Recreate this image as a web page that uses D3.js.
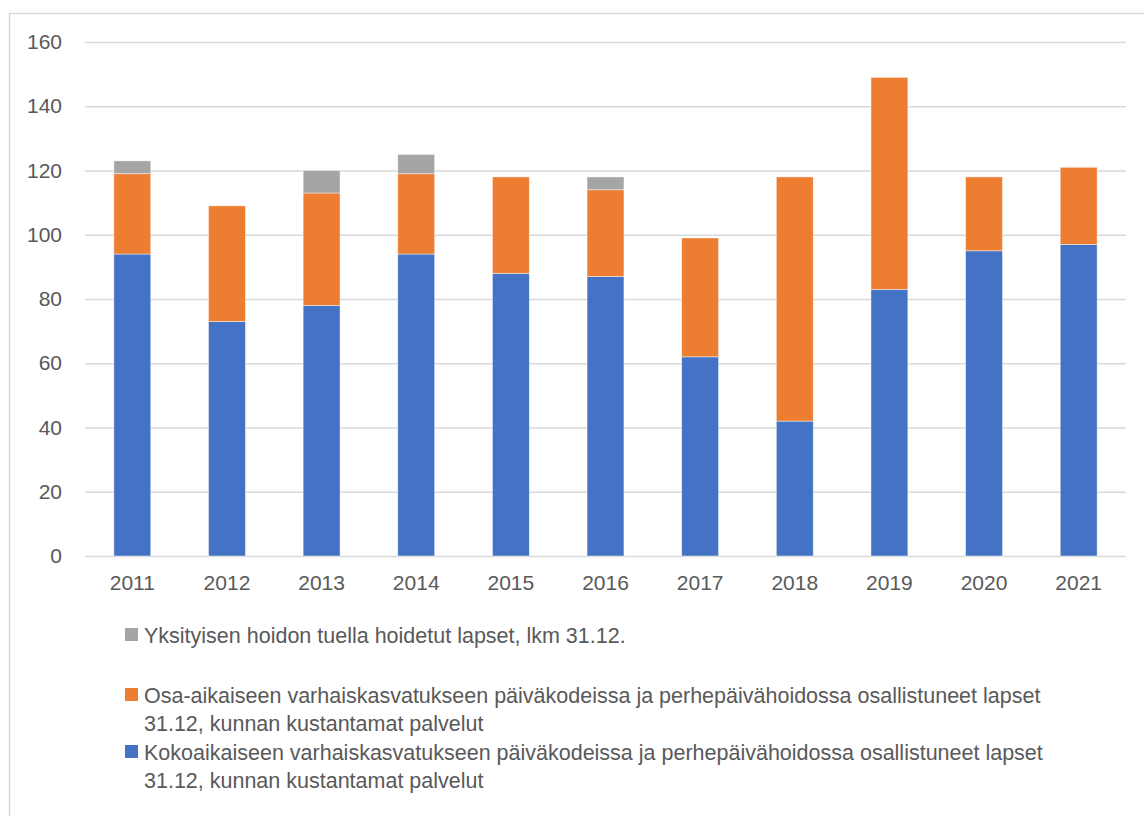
<!DOCTYPE html>
<html>
<head>
<meta charset="utf-8">
<script src="https://cdn.jsdelivr.net/npm/d3@7"></script>
<style>
  html, body { margin: 0; padding: 0; background: #fff; }
  svg { display: block; font-family: "Liberation Sans", Arial, sans-serif; }
</style>
</head>
<body>
<div id="chart"></div>
<script>
// data
const years = ['2011', '2012', '2013', '2014', '2015', '2016', '2017', '2018', '2019', '2020', '2021'];
const kokoaikainen = [94, 73, 78, 94, 88, 87, 62, 42, 83, 95, 97];
const osaaikainen = [25, 36, 35, 25, 30, 27, 37, 76, 66, 23, 24];
const yksityinen = [4, 0, 7, 6, 0, 4, 0, 0, 0, 0, 0];
const yTicks = [0, 20, 40, 60, 80, 100, 120, 140, 160];

const seriesKeys = ['koko', 'osa', 'yks'];
const colors = { koko: '#4472C4', osa: '#ED7D31', yks: '#A5A5A5' };
const legendItems = [
    { key: 'yks', lines: ['Yksityisen hoidon tuella hoidetut lapset, lkm 31.12.'] },
    { key: 'osa', lines: ['Osa-aikaiseen varhaiskasvatukseen päiväkodeissa ja perhepäivähoidossa osallistuneet lapset', '31.12, kunnan kustantamat palvelut'] },
    { key: 'koko', lines: ['Kokoaikaiseen varhaiskasvatukseen päiväkodeissa ja perhepäivähoidossa osallistuneet lapset', '31.12, kunnan kustantamat palvelut'] }
];

const width = 1144, height = 816;
const margin = { left: 85, right: 18, top: 42, bottom: 260 };
const textColor = '#595959';

const rows = years.map((y, i) => ({ year: y, koko: kokoaikainen[i], osa: osaaikainen[i], yks: yksityinen[i] }));
const stacked = d3.stack().keys(seriesKeys)(rows);

const svg = d3.select('#chart')
    .append('svg')
    .attr('width', width)
    .attr('height', height);

// outer frame
svg.append('rect')
    .attr('x', 9.5).attr('y', 13.5)
    .attr('width', 1150).attr('height', 820)
    .attr('fill', 'none')
    .attr('stroke', '#d9d9d9')
    .attr('stroke-width', 1.5);

const x = d3.scaleBand()
    .domain(years)
    .range([margin.left, width - margin.right])
    .paddingInner(0.61)
    .paddingOuter(0.305);

const y = d3.scaleLinear()
    .domain([0, 160])
    .range([height - margin.bottom, margin.top]);

// gridlines + y labels
const yAxis = svg.append('g')
    .attr('transform', `translate(${margin.left},0)`)
    .call(d3.axisLeft(y).tickValues(yTicks).tickSize(-(width - margin.left - margin.right)).tickPadding(23));
yAxis.select('.domain').remove();
yAxis.selectAll('.tick line').attr('stroke', '#d9d9d9').attr('stroke-width', 1.5);
yAxis.selectAll('.tick text')
    .attr('fill', textColor)
    .style('font-size', '21px');

// bars
svg.append('g')
    .selectAll('g')
    .data(stacked)
    .join('g')
    .attr('fill', d => colors[d.key])
    .selectAll('rect')
    .data(d => d.filter(s => s[1] - s[0] > 0))
    .join('rect')
    .attr('x', d => x(d.data.year))
    .attr('width', x.bandwidth())
    .attr('y', d => y(d[1]))
    .attr('height', d => y(d[0]) - y(d[1]))
    .attr('stroke', '#ffffff')
    .attr('stroke-opacity', 0.6)
    .attr('stroke-width', 0.75);

// x labels
const xAxis = svg.append('g')
    .attr('transform', `translate(0,${height - margin.bottom})`)
    .call(d3.axisBottom(x).tickSize(0).tickPadding(19));
xAxis.select('.domain').remove();
xAxis.selectAll('.tick text')
    .attr('fill', textColor)
    .style('font-size', '21px');

// legend
const legendTop = [635, 695, 752];
const legend = svg.append('g');
legendItems.forEach((item, i) => {
    const g = legend.append('g').attr('transform', `translate(125,${legendTop[i]})`);
    g.append('rect')
        .attr('x', 0).attr('y', -7)
        .attr('width', 13).attr('height', 13)
        .attr('fill', colors[item.key]);
    item.lines.forEach((line, j) => {
        g.append('text')
            .attr('x', 19)
            .attr('y', j * 28)
            .attr('dy', '0.35em')
            .attr('fill', textColor)
            .style('font-size', '21.5px')
            .text(line);
    });
});
</script>
</body>
</html>
